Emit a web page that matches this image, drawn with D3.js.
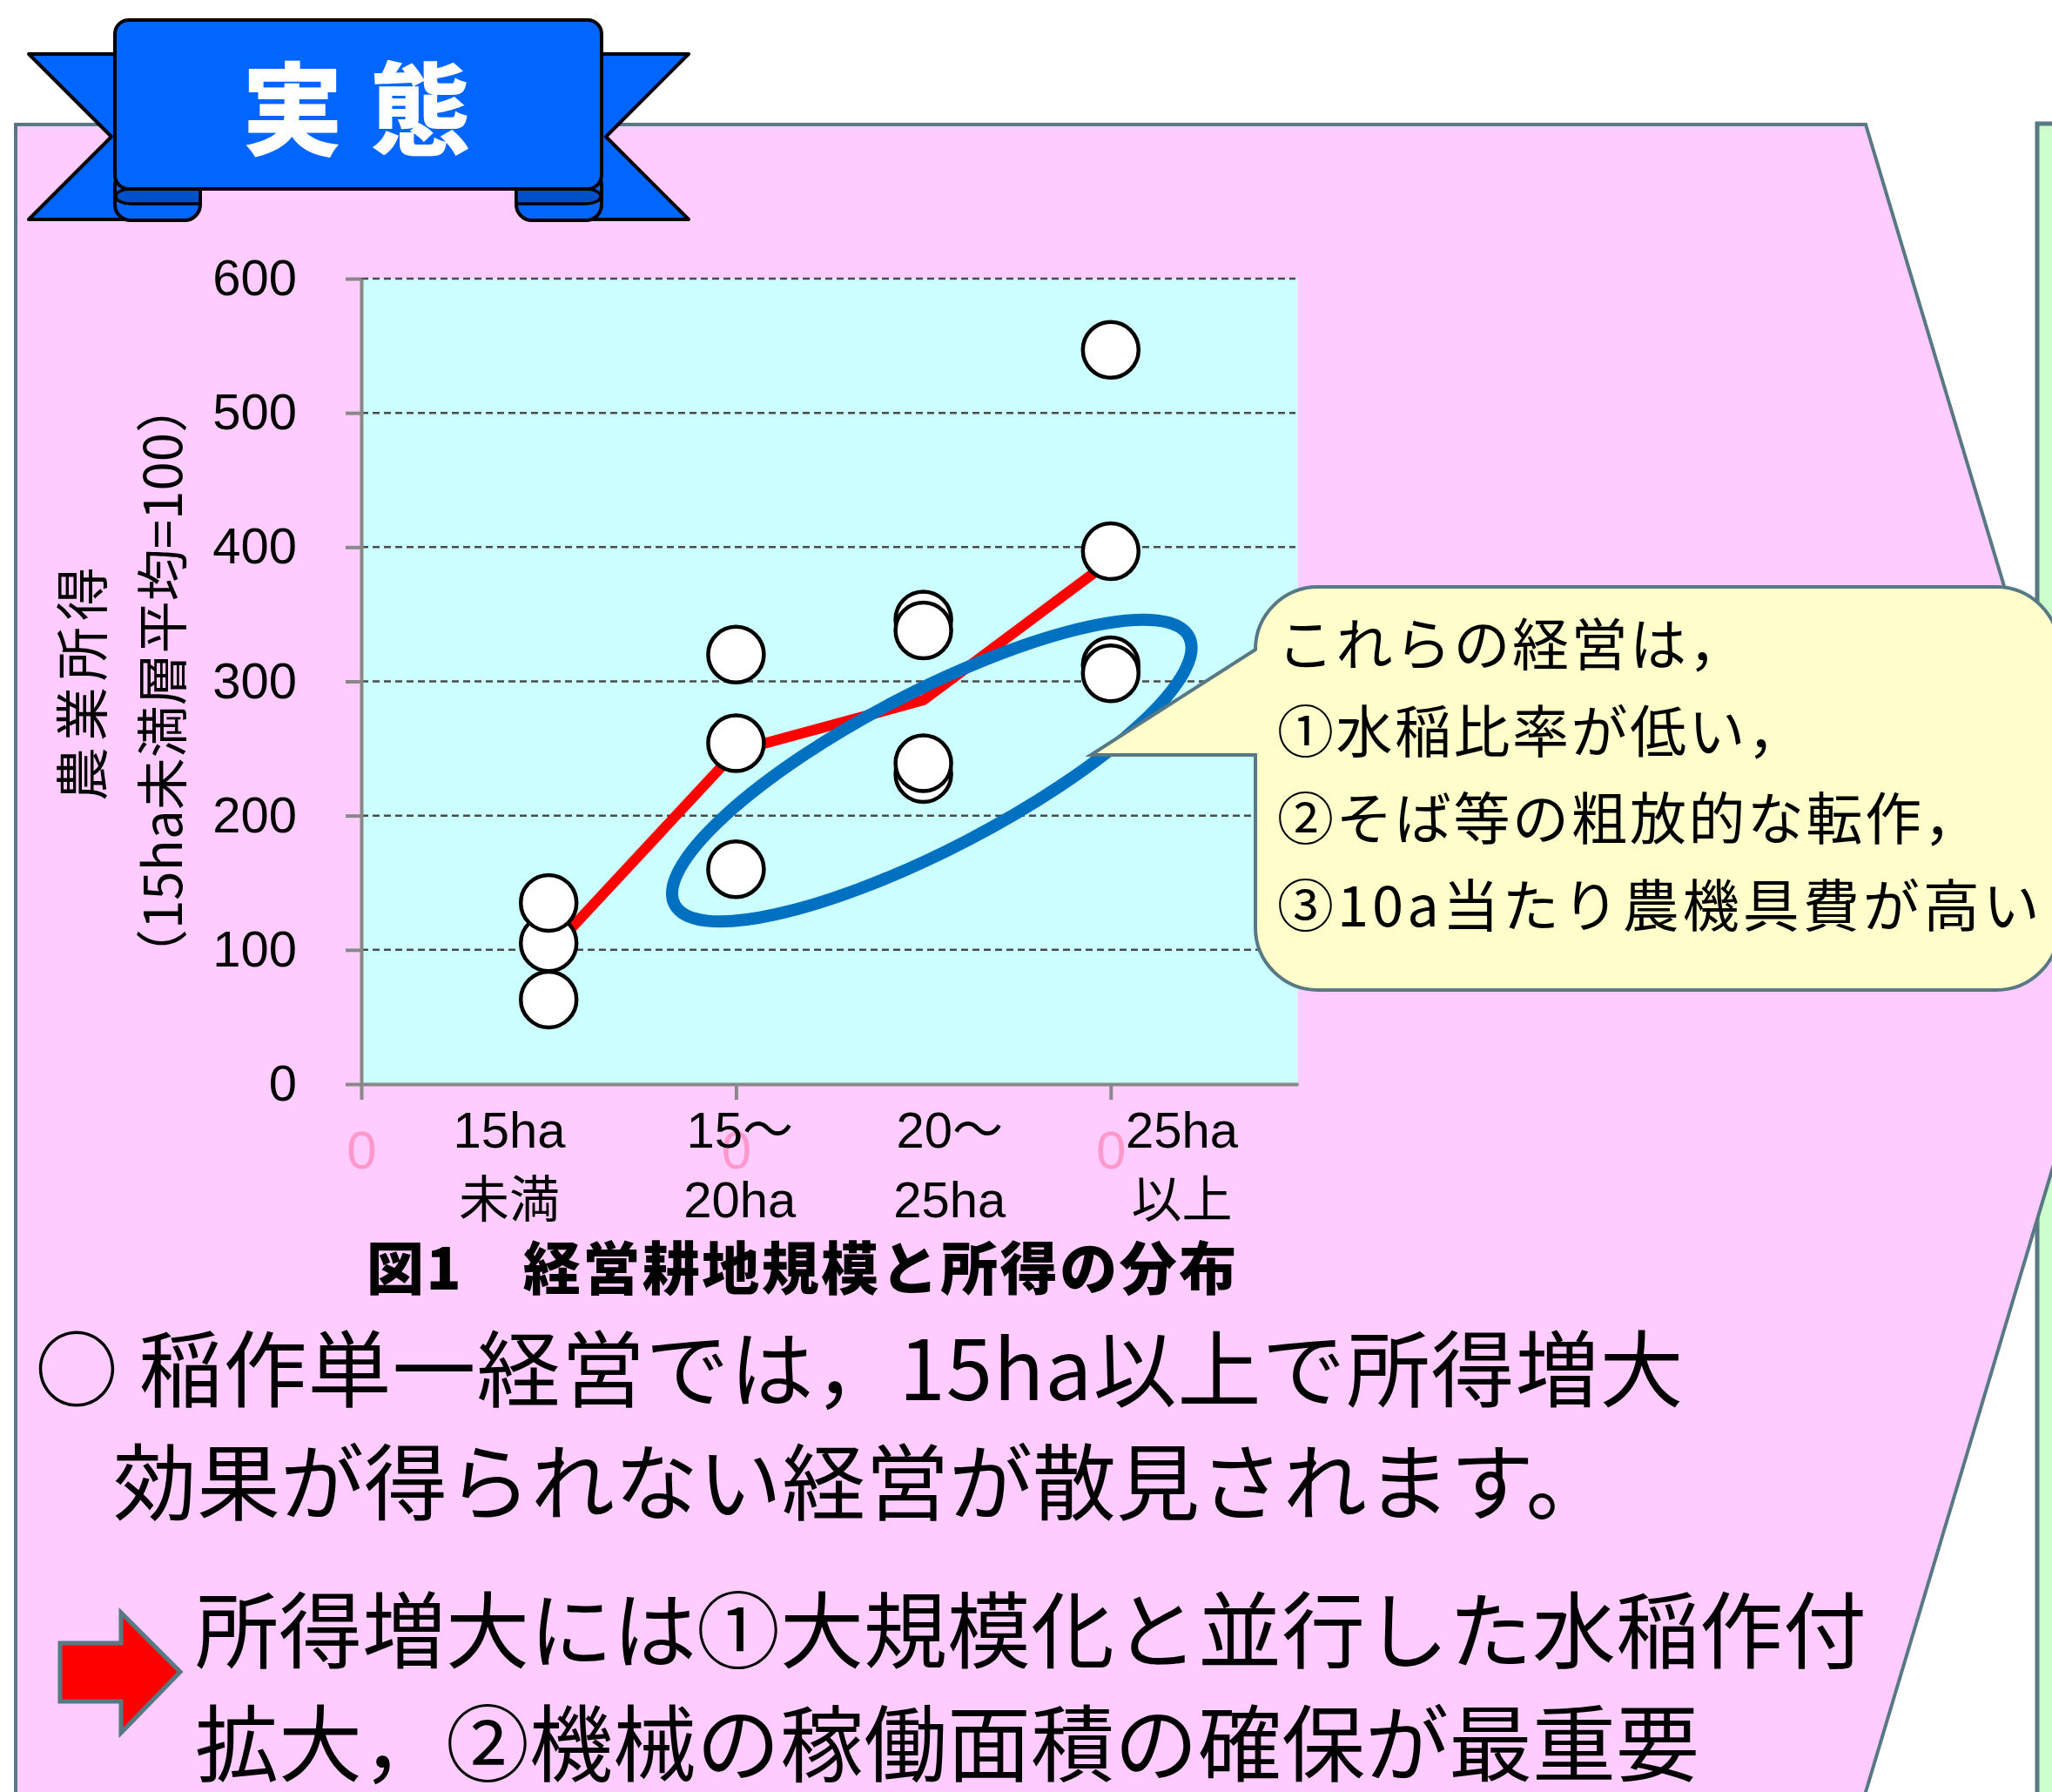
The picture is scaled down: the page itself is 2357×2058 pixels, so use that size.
<!DOCTYPE html>
<html><head><meta charset="utf-8">
<script src="https://cdn.jsdelivr.net/npm/d3@7"></script>
<style>html,body{margin:0;padding:0;background:#fff;} svg{display:block}</style>
</head><body>
<script>
// ---------------- data ----------------
const categories = ["15ha未満", "15～20ha", "20～25ha", "25ha以上"];
const categoryLine1 = ["15ha", "15～", "20～", "25ha"];
const categoryLine2 = ["未満", "20ha", "25ha", "以上"];
const categoryX = [1, 2, 3, 4];
const incomeUnder15 = [105, 135, 63];
const income15to20 = [320, 254, 160];
const income20to25 = [346, 338, 231, 239];
const income25plus = [547, 397, 312, 306];
const averageIncome = [98, 248, 286, 390];
const yTicks = [0, 100, 200, 300, 400, 500, 600];
const xTicks = [0, 2, 4];
const xTickLabels = ["0", "0", "0"];
const yTitle1 = "農業所得";
const yTitle2 = "（15ha未満層平均=100）";
const caption = "図1　経営耕地規模と所得の分布";
const bannerTitle = "実態";
const calloutLines = ["これらの経営は，", "①水稲比率が低い，", "②そば等の粗放的な転作，", "③10a当たり農機具費が高い"];
const bodyLines = ["○ 稲作単一経営では，15ha以上で所得増大", "効果が得られない経営が散見されます。"];
const conclusionLines = ["所得増大には①大規模化と並行した水稲作付", "拡大，②機械の稼働面積の確保が最重要"];
// highlighted group (ellipse) in data units
const highlightCenter = {x: 3.045, y: 233.5};

// ---------------- layout ----------------
const W = 2357, H = 2058;
const JP = "'Noto Sans CJK JP','Noto Sans',sans-serif";
const LAT = "'Liberation Sans','Noto Sans CJK JP',sans-serif";
const BORDER = "#587884";
const labelCenters = [0.79, 2.02, 3.14, 4.38];

const svg = d3.select("body").append("svg").attr("width", W).attr("height", H);
svg.append("rect").attr("width", W).attr("height", H).attr("fill", "#fff");

// green panel (right)
svg.append("rect").attr("x", 2340).attr("y", 142).attr("width", 100).attr("height", 2000)
  .attr("fill", "#ccffcc").attr("stroke", BORDER).attr("stroke-width", 5);

// pink arrow-shaped panel
svg.append("path").attr("d", "M18,143 L2143,143 L2430,1100 L2143,2058 L2143,2070 L18,2070 Z")
  .attr("fill", "#ffccff").attr("stroke", BORDER).attr("stroke-width", 4).attr("stroke-linejoin", "miter");

// ---------------- chart ----------------
const x = d3.scaleLinear().domain([0, 5]).range([415, 1491]);
const y = d3.scaleLinear().domain([0, 600]).range([1245, 320]);

const chart = svg.append("g");
chart.append("rect").attr("x", x(0)).attr("y", y(600)).attr("width", x(5) - x(0)).attr("height", y(0) - y(600))
  .attr("fill", "#ccffff");

// gridlines
chart.append("g").selectAll("line").data(yTicks.filter(d => d > 0)).join("line")
  .attr("x1", x(0)).attr("x2", x(5) - 3).attr("y1", d => y(d)).attr("y2", d => y(d))
  .attr("stroke", "#4a4a4a").attr("stroke-width", 2.5).attr("stroke-dasharray", "8,5");

// y axis
const yAxis = chart.append("g").attr("transform", `translate(${x(0)},0)`)
  .call(d3.axisLeft(y).tickValues(yTicks).tickSize(18).tickSizeOuter(0).tickPadding(56));
yAxis.select(".domain").attr("stroke", "#888").attr("stroke-width", 4);
yAxis.selectAll(".tick line").attr("stroke", "#888").attr("stroke-width", 4);
yAxis.selectAll(".tick text").attr("font-family", LAT).attr("font-size", 58).attr("fill", "#000");

// x axis
const xAxis = chart.append("g").attr("transform", `translate(0,${y(0)})`)
  .call(d3.axisBottom(x).tickValues(xTicks).tickFormat((d, i) => xTickLabels[i]).tickSize(18).tickSizeOuter(0));
xAxis.select(".domain").attr("stroke", "#888").attr("stroke-width", 4);
xAxis.selectAll(".tick line").attr("stroke", "#888").attr("stroke-width", 4);
xAxis.selectAll(".tick text").attr("font-family", LAT).attr("font-size", 62).attr("fill", "#ff99cc")
  .attr("y", 53).attr("dy", "0.71em");

// category labels
const cl = chart.append("g").attr("font-family", LAT).attr("font-size", 58).attr("text-anchor", "middle").attr("fill", "#000");
cl.selectAll("text.l1").data(categoryLine1).join("text").attr("class", "l1")
  .attr("x", (d, i) => x(labelCenters[i])).attr("y", 1318).text(d => d);
cl.selectAll("text.l2").data(categoryLine2).join("text").attr("class", "l2")
  .attr("x", (d, i) => x(labelCenters[i])).attr("y", 1398).text(d => d);

// y-axis title
chart.append("text").attr("transform", "translate(91,782) rotate(-90)")
  .attr("text-anchor", "middle").attr("dominant-baseline", "central")
  .attr("font-family", JP).attr("font-size", 62).attr("letter-spacing", 7).text(yTitle1);
chart.append("text").attr("transform", "translate(182,782) rotate(-90)")
  .attr("text-anchor", "middle").attr("dominant-baseline", "central")
  .attr("font-family", JP).attr("font-size", 60).text(yTitle2);

// average line
chart.append("path").datum(averageIncome)
  .attr("d", d3.line().x((d, i) => x(categoryX[i])).y(d => y(d)))
  .attr("fill", "none").attr("stroke", "#ff0000").attr("stroke-width", 12).attr("stroke-linejoin", "miter");

// farm points
const groups = [incomeUnder15, income15to20, income20to25, income25plus];
const points = [];
groups.forEach((g, i) => g.forEach(v => points.push({cx: categoryX[i], v})));
chart.append("g").selectAll("circle").data(points).join("circle")
  .attr("cx", d => x(d.cx)).attr("cy", d => y(d.v)).attr("r", 32)
  .attr("fill", "#fff").attr("stroke", "#000").attr("stroke-width", 4.5);

// highlight ellipse
chart.append("ellipse")
  .attr("transform", `translate(${x(highlightCenter.x)},${y(highlightCenter.y)}) rotate(-27.5)`)
  .attr("rx", 333).attr("ry", 90)
  .attr("fill", "none").attr("stroke", "#0070c0").attr("stroke-width", 14);

// caption
svg.append("text").attr("x", 421).attr("y", 1481).attr("font-family", JP).attr("font-weight", 900)
  .attr("font-size", 66).attr("letter-spacing", 2.5).attr("fill", "#000").text(caption);

// callout
svg.append("path")
  .attr("d", "M1442,746 L1253,867 L1442,867 L1442,1065 A72,72 0 0 0 1514,1137 L2293,1137 A72,72 0 0 0 2365,1065 L2365,746 A72,72 0 0 0 2293,674 L1514,674 A72,72 0 0 0 1442,746 Z")
  .attr("fill", "#ffffcc").attr("stroke", BORDER).attr("stroke-width", 4).attr("stroke-linejoin", "miter");
svg.append("g").attr("font-family", JP).attr("font-size", 65).attr("fill", "#000")
  .selectAll("text").data(calloutLines).join("text")
  .attr("x", 1467).attr("y", (d, i) => 764 + i * 100)
  .attr("letter-spacing", (d, i) => i === 3 ? 4 : 2.5).text(d => d);

// body text
svg.append("g").attr("font-family", JP).attr("font-size", 96).attr("fill", "#000")
  .selectAll("text").data(bodyLines).join("text")
  .attr("x", (d, i) => i === 0 ? 40 : 130).attr("y", (d, i) => 1608 + i * 130)
  .attr("letter-spacing", (d, i) => i === 0 ? 1 : 0).text(d => d);

// red arrow
svg.append("path").attr("d", "M69,1887 L139,1887 L139,1852 L207,1920 L139,1990 L139,1954 L69,1954 Z")
  .attr("fill", "#ff0000").attr("stroke", BORDER).attr("stroke-width", 5).attr("stroke-linejoin", "miter");
svg.append("g").attr("font-family", JP).attr("font-size", 96).attr("fill", "#000")
  .selectAll("text").data(conclusionLines).join("text")
  .attr("x", 224).attr("y", (d, i) => 1908 + i * 130).text(d => d);

// ---------------- banner ----------------
const ban = svg.append("g").attr("stroke", "#000").attr("stroke-width", 4).attr("stroke-linejoin", "round");
ban.append("path").attr("d", "M33,62 L150,62 L150,252 L33,252 L128,157 Z").attr("fill", "#0066ff");
ban.append("path").attr("d", "M791,62 L674,62 L674,252 L791,252 L696,157 Z").attr("fill", "#0066ff");
ban.append("rect").attr("x", 132).attr("y", 195).attr("width", 98).attr("height", 58).attr("rx", 18).attr("fill", "#0066ff");
ban.append("rect").attr("x", 593).attr("y", 195).attr("width", 98).attr("height", 58).attr("rx", 18).attr("fill", "#0066ff");
ban.append("path").attr("d", "M150,217 H230 V234 H150 A17,8.5 0 0 1 150,217 Z").attr("fill", "#0050c8").attr("stroke-width", 3.5);
ban.append("path").attr("d", "M673,217 H593 V234 H673 A17,8.5 0 0 0 673,217 Z").attr("fill", "#0050c8").attr("stroke-width", 3.5);
ban.append("rect").attr("x", 132).attr("y", 23).attr("width", 559).attr("height", 194).attr("rx", 16).attr("fill", "#0066ff");
svg.append("text").attr("x", 278).attr("y", 169).attr("font-family", JP).attr("font-weight", 900)
  .attr("font-size", 116).attr("letter-spacing", 31).attr("fill", "#fff").text(bannerTitle);
</script>
</body></html>
